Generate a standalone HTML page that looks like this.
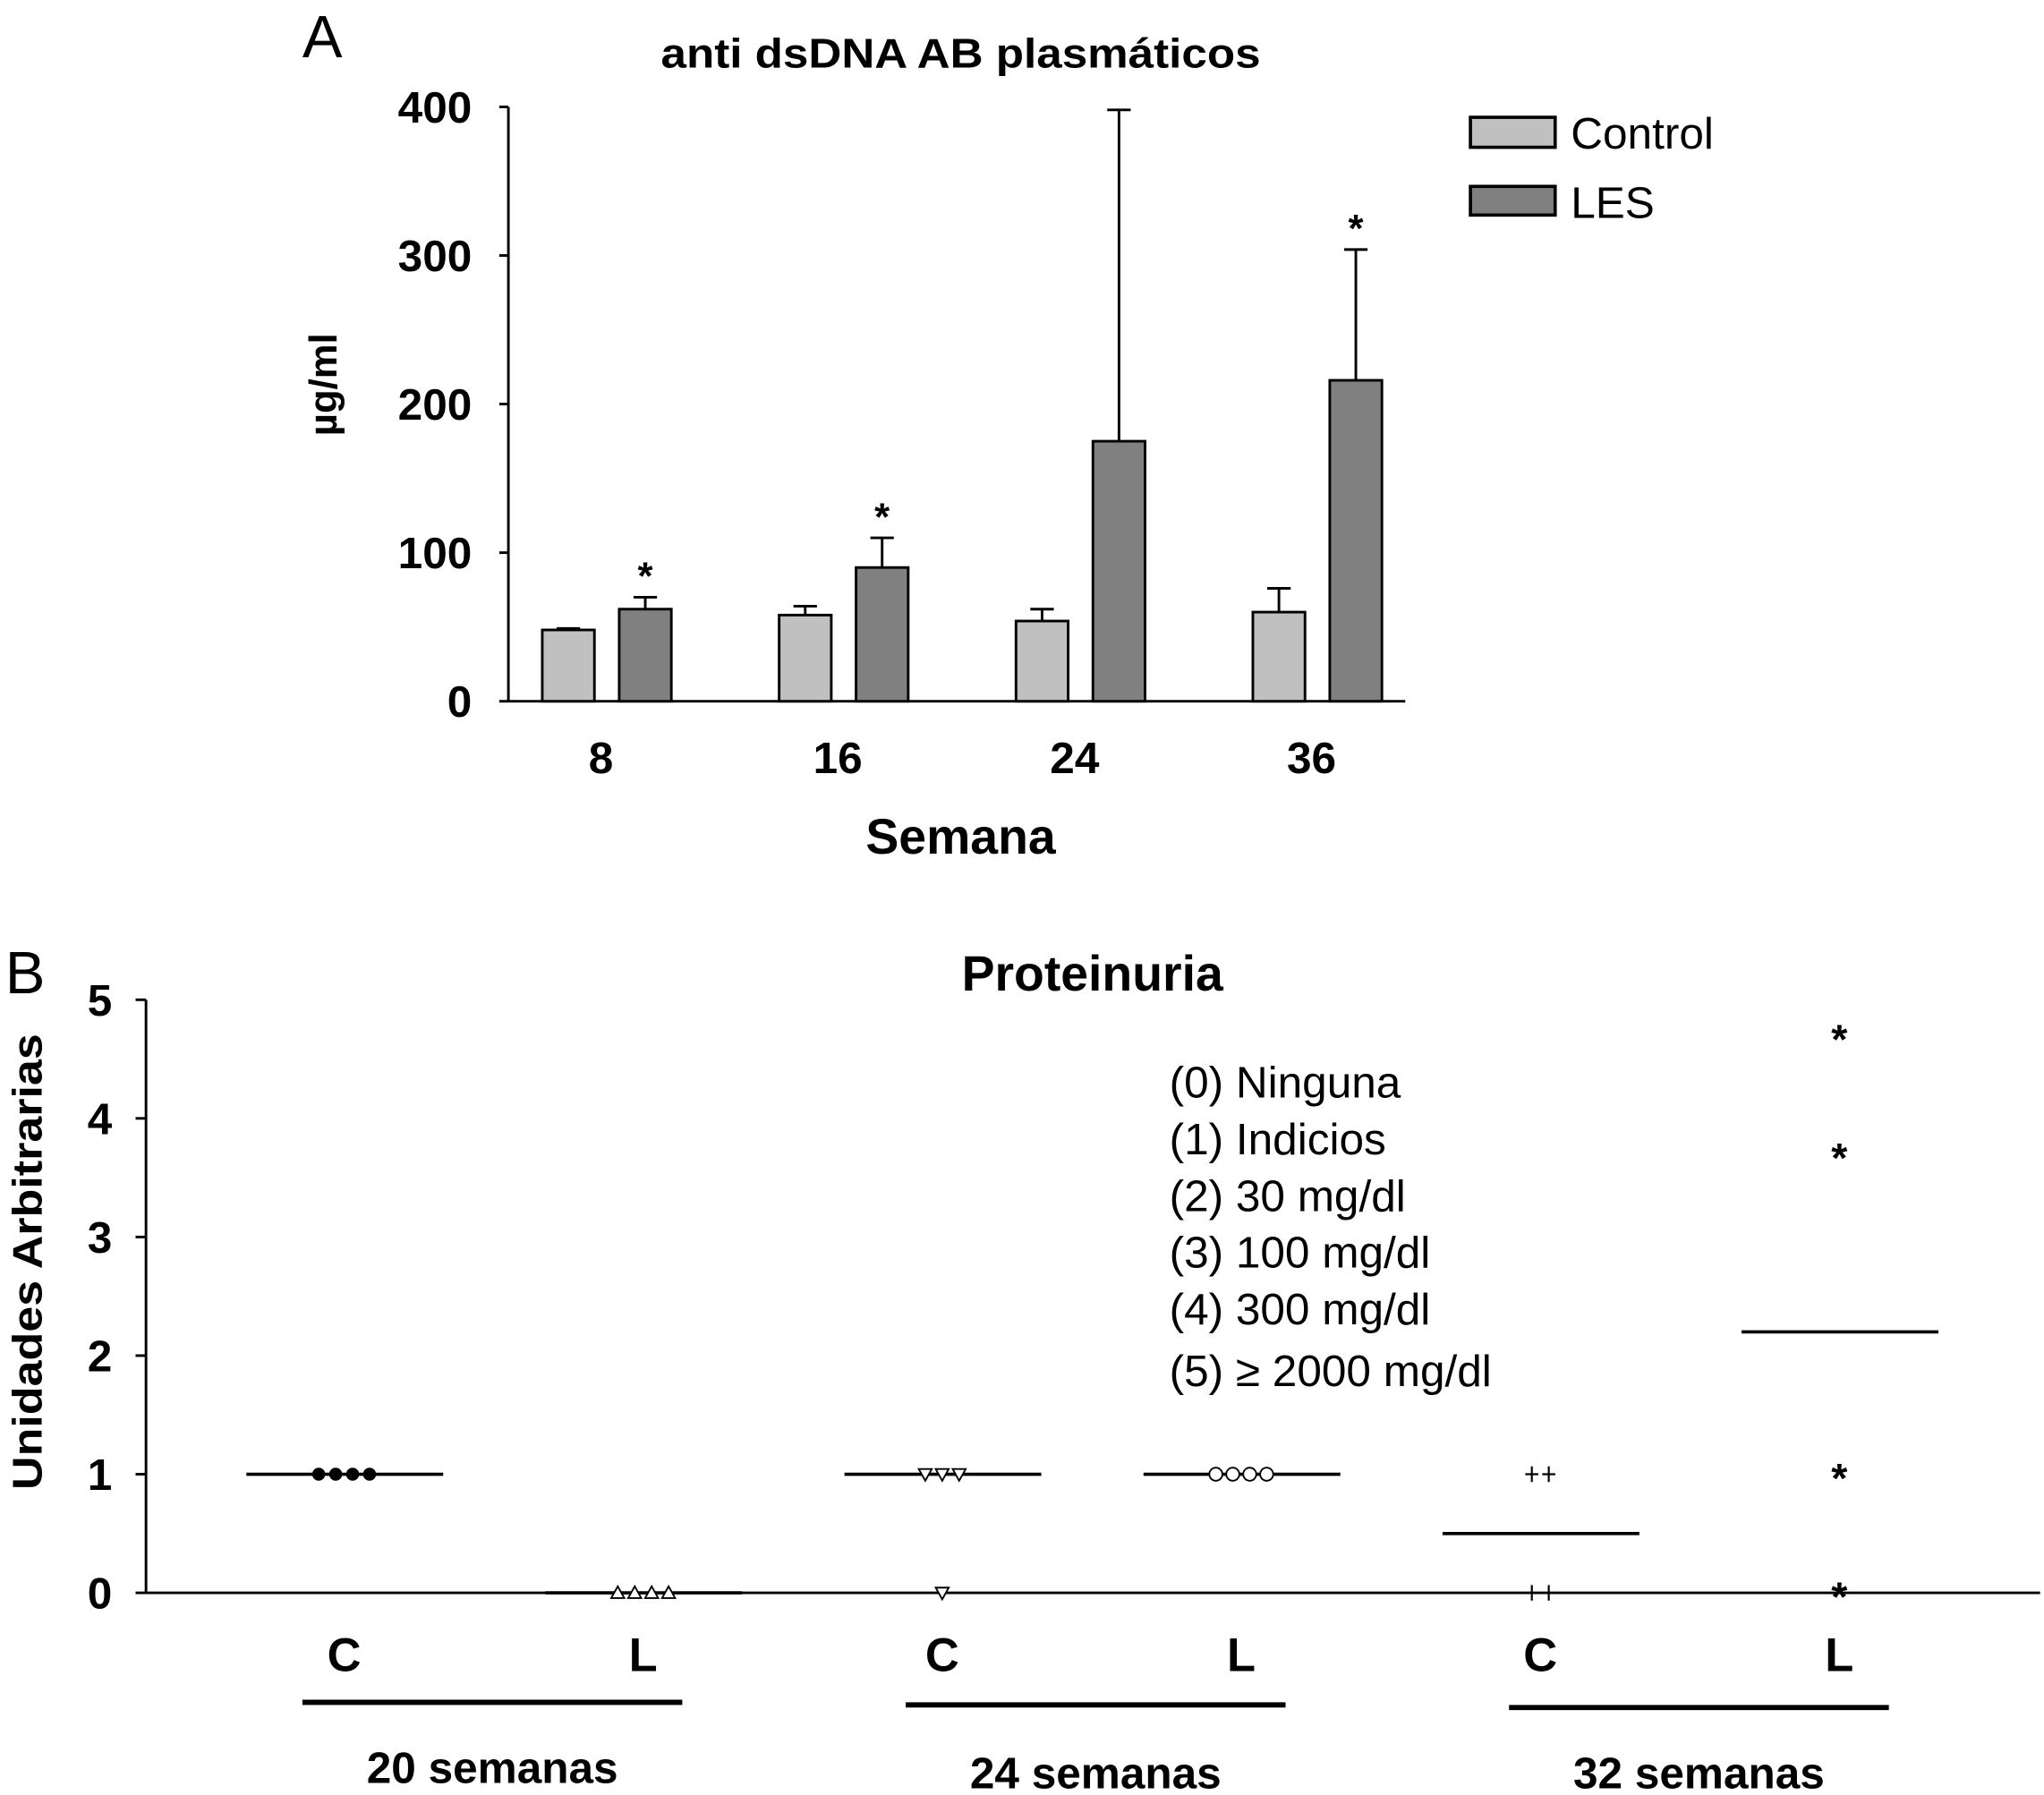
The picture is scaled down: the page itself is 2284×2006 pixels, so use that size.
<!DOCTYPE html>
<html><head><meta charset="utf-8"><style>
html,body{margin:0;padding:0;background:#fff}
svg{display:block}
text{font-family:"Liberation Sans",sans-serif;fill:#000}
</style></head><body>
<svg id="fig" width="2284" height="2006" viewBox="0 0 1568 1377.1" preserveAspectRatio="none" xmlns="http://www.w3.org/2000/svg">
<g id="A">
<text x="232" y="44" font-size="46">A</text>
<text x="737" y="52" font-size="32" font-weight="bold" text-anchor="middle" textLength="460" lengthAdjust="spacingAndGlyphs">anti dsDNA AB plasmáticos</text>
<text transform="translate(258,295) rotate(-90)" font-size="30" font-weight="bold" text-anchor="middle">µg/ml</text>
<text x="737" y="655" font-size="38" font-weight="bold" text-anchor="middle">Semana</text>
<rect x="1128" y="90" width="65" height="23" fill="#c0c0c0" stroke="#000" stroke-width="2.5"/>
<text x="1205" y="114" font-size="34">Control</text>
<rect x="1128" y="143" width="65" height="22" fill="#808080" stroke="#000" stroke-width="2.5"/>
<text x="1205" y="167" font-size="34">LES</text>
</g>
<g id="B">
<text x="4" y="762" font-size="46">B</text>
<text x="838" y="760" font-size="38" font-weight="bold" text-anchor="middle">Proteinuria</text>
<text transform="translate(32,968) rotate(-90)" font-size="32" font-weight="bold" text-anchor="middle" textLength="350" lengthAdjust="spacingAndGlyphs">Unidades Arbitrarias</text>
</g>
</svg>
<script>
// Chart A data
const weeks=["8","16","24","36"];
const controlMean=[48,58,54,60];
const controlErr=[49,64,62,76];
const lesMean=[62,90,175,216];
const lesErr=[70,110,398,304];
const lesSig=[true,true,false,true];
const yTicksA=[0,100,200,300,400];
// Chart B data
const groupLabels=["20 semanas","24 semanas","32 semanas"];
const catLabels=["C","L","C","L","C","L"];
const catMeans=[1,0,1,1,0.5,2.2];
const catPoints=[[1,1,1,1],[0,0,0,0],[1,1,1,0],[1,1,1,1],[1,1,0,0],[4.7,3.7,1,0]];
const catMarkers=["dot","tri","diamond","circle","plus","star"];
const yTicksB=[0,1,2,3,4,5];
const legendLines=["(0) Ninguna","(1) Indicios","(2) 30 mg/dl","(3) 100 mg/dl","(4) 300 mg/dl","(5) ≥ 2000 mg/dl"];

const NS="http://www.w3.org/2000/svg";
function mk(parent,tag,at){const e=document.createElementNS(NS,tag);for(const k in at)e.setAttribute(k,at[k]);parent.appendChild(e);return e;}
const A=document.getElementById('A'),B=document.getElementById('B');

// Axis A
const ya=v=>538-v*(456/400);
const gx=i=>461+i*181.7;
let ax=mk(A,'line',{x1:390,y1:ya(400),x2:390,y2:ya(0),stroke:'#000','stroke-width':2});

let bx=mk(A,'line',{x1:390,y1:ya(0),x2:1078,y2:ya(0),stroke:'#000','stroke-width':2});

yTicksA.forEach(t=>{
 const l=mk(A,'line',{x1:383,x2:390,y1:ya(t),y2:ya(t),stroke:'#000','stroke-width':2});
 
 const tx=mk(A,'text',{x:362,y:ya(t)+12,'font-size':34,'font-weight':'bold','text-anchor':'end'});tx.textContent=t;
 
});
weeks.forEach((w,i)=>{
 const tx=mk(A,'text',{x:gx(i),y:593,'font-size':34,'font-weight':'bold','text-anchor':'middle'});tx.textContent=w;
 
 [[controlMean,controlErr,'#c0c0c0',-25,'control'],[lesMean,lesErr,'#808080',34,'les']].forEach(([m,e,c,off,nm])=>{
  const cx=gx(i)+off, x0=cx-20;
  const el=mk(A,'line',{x1:cx,x2:cx,y1:ya(e[i]),y2:ya(m[i]),stroke:'#000','stroke-width':2});
  
  const cap=mk(A,'line',{x1:cx-9,x2:cx+9,y1:ya(e[i]),y2:ya(e[i]),stroke:'#000','stroke-width':2});
  
  const r=mk(A,'rect',{x:x0,y:ya(m[i]),width:40,height:ya(0)-ya(m[i]),fill:c,stroke:'#000','stroke-width':2});
  
 });
 if(lesSig[i]){const s=mk(A,'text',{x:gx(i)+34,y:ya(lesErr[i])-6,'font-size':30,'font-weight':'bold','text-anchor':'middle'});s.textContent='*';
  }
});

// Axis B
const yb=v=>1222-v*91;
const cxB=i=>264+i*229.4;
let ay=mk(B,'line',{x1:112,y1:yb(5),x2:112,y2:yb(0),stroke:'#000','stroke-width':2});

let axb=mk(B,'line',{x1:112,y1:yb(0),x2:1565,y2:yb(0),stroke:'#000','stroke-width':2});

yTicksB.forEach(t=>{
 const l=mk(B,'line',{x1:104,x2:112,y1:yb(t),y2:yb(t),stroke:'#000','stroke-width':2});
 
 const tx=mk(B,'text',{x:86,y:yb(t)+12,'font-size':34,'font-weight':'bold','text-anchor':'end'});tx.textContent=t;
 
});
legendLines.forEach((s,i)=>{
 const tx=mk(B,'text',{x:897,y:842+i*43.5+(i==5?4:0),'font-size':34});tx.textContent=s;
 
});
catLabels.forEach((c,i)=>{
 const x=cxB(i);
 const tx=mk(B,'text',{x:x,y:1282,'font-size':36,'font-weight':'bold','text-anchor':'middle'});tx.textContent=c;
 
 const ml=mk(B,'line',{x1:x-75,x2:x+76,y1:yb(catMeans[i]),y2:yb(catMeans[i]),stroke:'#000','stroke-width':2.5});
 
 const counts={};
 catPoints[i].forEach(v=>{counts[v]=(counts[v]||0)+1;});
 const seen={};
 catPoints[i].forEach(v=>{
  const n=counts[v],k=(seen[v]=(seen[v]||0)+1)-1;
  const px=x+(k-(n-1)/2)*13, py=yb(v), m=catMarkers[i];
  let e;
  if(m==='dot') e=mk(B,'circle',{cx:px,cy:py,r:5,fill:'#000'});
  else if(m==='circle') e=mk(B,'circle',{cx:px,cy:py,r:5,fill:'#fff',stroke:'#000','stroke-width':1.3});
  else if(m==='tri') e=mk(B,'polygon',{points:`${px-5},${py+4} ${px+5},${py+4} ${px},${py-5}`,fill:'#fff',stroke:'#000','stroke-width':1.3});
  else if(m==='diamond') e=mk(B,'polygon',{points:`${px-5},${py-4} ${px+5},${py-4} ${px},${py+5}`,fill:'#fff',stroke:'#000','stroke-width':1.3});
  else if(m==='plus') e=mk(B,'path',{d:`M${px-5},${py}H${px+5}M${px},${py-6}V${py+6}`,stroke:'#000','stroke-width':1.5});
  else { const tt=mk(B,'text',{x:px,y:py+14,'font-size':32,'font-weight':'bold','text-anchor':'middle'});tt.textContent='*';e=tt; }
  
  
 });
});
groupLabels.forEach((g,j)=>{
 const x0=cxB(2*j)-32+(j*4), x1=cxB(2*j+1)+30+(j*4), mid=(x0+x1)/2;
 const l=mk(B,'line',{x1:x0,x2:x1,y1:1306+j*2,y2:1306+j*2,stroke:'#000','stroke-width':4});
 
 const tx=mk(B,'text',{x:mid,y:1368+(j>0?4:0),'font-size':34,'font-weight':'bold','text-anchor':'middle'});tx.textContent=g;
 
});
</script>
</body></html>
